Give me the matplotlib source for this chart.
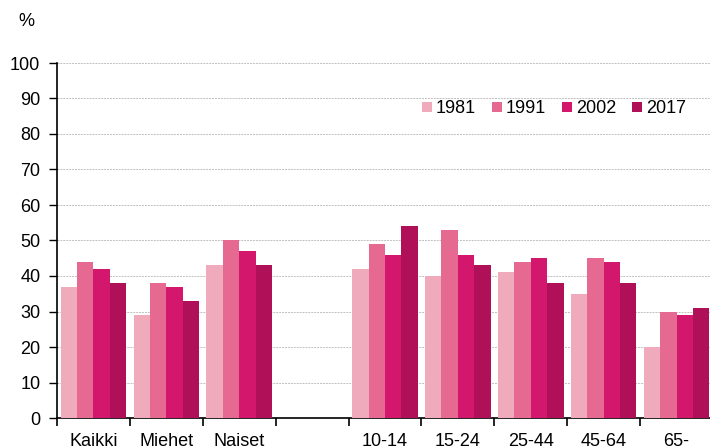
import numpy as np
import matplotlib.pyplot as plt

plt.rcParams['font.family'] = ['Liberation Sans', 'DejaVu Sans']

categories = ['Kaikki', 'Miehet', 'Naiset', '', '10-14', '15-24', '25-44', '45-64', '65-']
years = ['1981', '1991', '2002', '2017']
v1981 = [37, 29, 43, np.nan, 42, 40, 41, 35, 20]
v1991 = [44, 38, 50, np.nan, 49, 53, 44, 45, 30]
v2002 = [42, 37, 47, np.nan, 46, 46, 45, 44, 29]
v2017 = [38, 33, 43, np.nan, 54, 43, 38, 38, 31]
colors = ['#efabbc', '#e56991', '#d3176d', '#b01058']

fig = plt.figure(figsize=(7.10, 4.48), dpi=100)
ax = fig.add_axes([57/710, 30/448, 656/710, 355/448])

x = np.arange(len(categories))
w = 0.225
series = [v1981, v1991, v2002, v2017]
for i, vals in enumerate(series):
    ax.bar(x + (i - 1.5) * w, vals, width=w, color=colors[i], label=years[i], zorder=3)

ax.set_xlim(-0.5, len(categories) - 0.5)
ax.set_ylim(0, 100)
ax.set_yticks(range(0, 101, 10))
ax.yaxis.grid(True, linestyle=(0, (2, 1)), color='#c0c0c0', linewidth=0.7, zorder=0)
ax.tick_params(axis='y', labelsize=13, length=6, width=1, colors='black', pad=6)

# category labels at centres, tick marks between slots
ax.set_xticks(x)
ax.set_xticklabels(categories, fontsize=13)
ax.tick_params(axis='x', which='major', length=0, pad=11)
ax.set_xticks(np.arange(-0.5, len(categories) + 0.5, 1), minor=True)
ax.tick_params(axis='x', which='minor', length=6, width=1.2, direction='out')

for s in ['top', 'right']:
    ax.spines[s].set_visible(False)
ax.spines['left'].set_linewidth(1.2)
ax.spines['bottom'].set_linewidth(1.2)

fig.text(18/710, 1 - 21/448, '%', fontsize=13, va='center', ha='left')

ax.legend(loc='upper left', bbox_to_anchor=(358/656, 0.915), ncol=4, frameon=False,
          fontsize=13, handlelength=0.55, handleheight=0.55, handletextpad=0.2,
          columnspacing=0.9, borderaxespad=0)

fig.savefig('out.png', dpi=100)
